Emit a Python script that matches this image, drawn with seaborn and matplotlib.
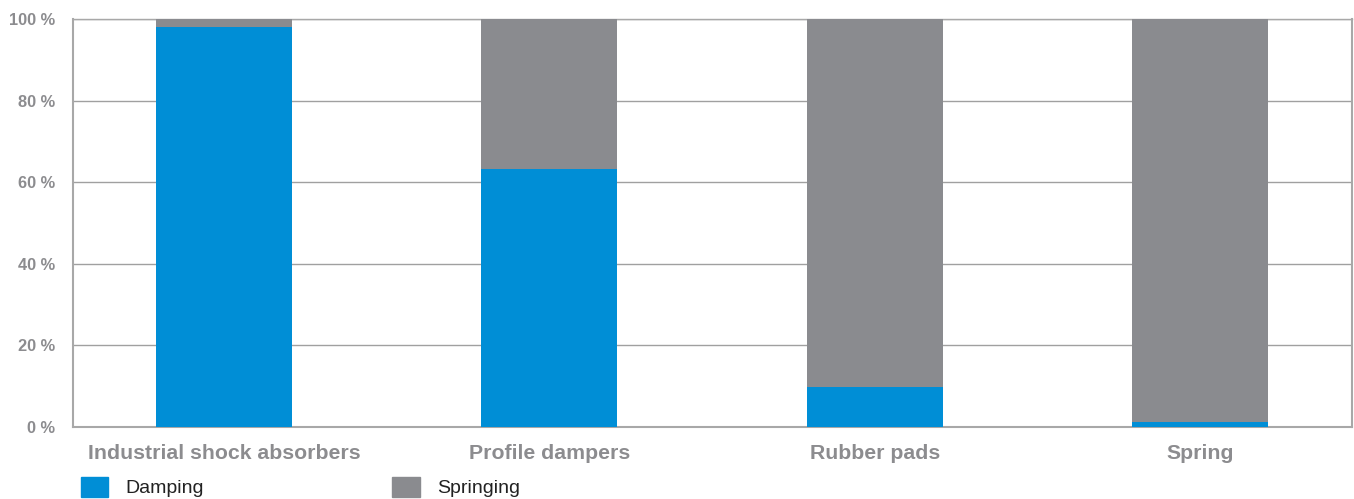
import pandas as pd
import matplotlib.pyplot as plt
import seaborn as sns
from matplotlib.patches import Patch

# Données
categories = ["Industrial shock absorbers", "Profile dampers", "Rubber pads", "Spring"]
damping = [98, 63.2, 9.8, 1.3]
springing = [100 - d for d in damping]
y_ticks = [0, 20, 40, 60, 80, 100]
y_labels = ["0 %", "20 %", "40 %", "60 %", "80 %", "100 %"]

blue = "#008ed6"
grey = "#8a8b8f"
text_grey = "#8c8c8f"

df = pd.DataFrame({"category": categories, "damping": damping, "springing": springing})
df["total"] = df["damping"] + df["springing"]

sns.set_theme(style="white")
plt.rcParams["font.family"] = ["Liberation Sans", "DejaVu Sans"]

fig = plt.figure(figsize=(13.54, 4.99), dpi=100)
ax = fig.add_axes([0.0539, 0.1443, 0.9446, 0.8177])

sns.barplot(data=df, x="category", y="total", color=grey, width=0.418,
            saturation=1, linewidth=0, ax=ax, zorder=3)
sns.barplot(data=df, x="category", y="damping", color=blue, width=0.418,
            saturation=1, linewidth=0, ax=ax, zorder=4)

ax.set_xlim(-0.464, 3.467)
ax.set_ylim(0, 100)
ax.set_yticks(y_ticks)
ax.set_yticklabels(y_labels)
ax.set_xlabel("")
ax.set_ylabel("")
ax.yaxis.grid(True, color="#a0a0a0", linewidth=1, zorder=1)
ax.set_axisbelow(True)
for s in ax.spines.values():
    s.set_visible(True)
    s.set_color("#a8a8a8")
    s.set_linewidth(1.5)
ax.spines["top"].set_linewidth(1)

ax.tick_params(axis="y", length=0, pad=13, labelsize=11.8, labelcolor=text_grey)
ax.tick_params(axis="x", length=0, pad=12, labelsize=15.3, labelcolor=text_grey)
for lab in ax.get_yticklabels() + ax.get_xticklabels():
    lab.set_fontweight("bold")

handles = [Patch(color=blue, label="Damping"), Patch(color=grey, label="Springing")]
fig.legend(handles=handles, loc="center left", bbox_to_anchor=(0.0598, 0.024),
           ncol=2, frameon=False, fontsize=14, handlelength=1.4,
           handleheight=1.2, handletextpad=0.88, columnspacing=9.7,
           borderpad=0, borderaxespad=0, labelcolor="#222222")

fig.savefig("out.png", dpi=100)
